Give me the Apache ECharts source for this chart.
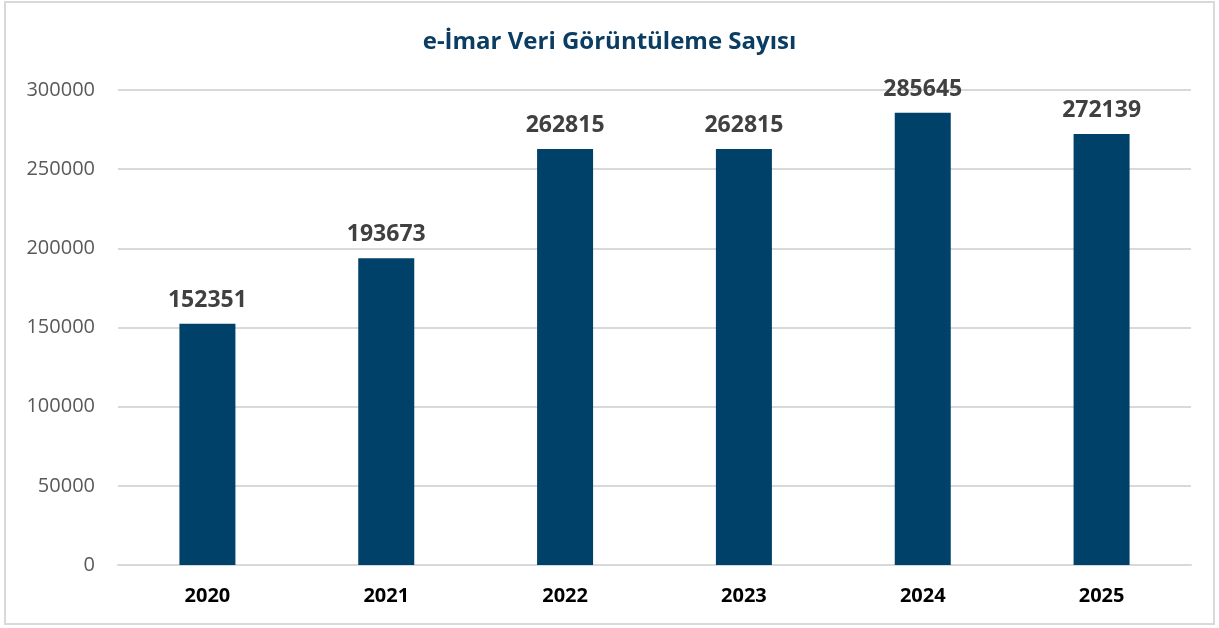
<!DOCTYPE html>
<html>
<head>
<meta charset="utf-8">
<script src="https://cdn.jsdelivr.net/npm/echarts@6/dist/echarts.min.js"></script>
<style>
  html, body { margin: 0; padding: 0; background: #fff; }
  #chart { width: 1219px; height: 628px; }
</style>
</head>
<body>
<div id="chart"></div>
<script>
var years = ['2020', '2021', '2022', '2023', '2024', '2025'];
var views = [152351, 193673, 262815, 262815, 285645, 272139];

var chart = echarts.init(document.getElementById('chart'));
var font = '"Open Sans", "Noto Sans", sans-serif';

chart.setOption({
    animation: false,
    title: {
        text: 'e-İmar Veri Görüntüleme Sayısı',
        left: 'center',
        top: 25,
        textStyle: { color: '#0b3d63', fontSize: 24, fontWeight: 'bold', fontFamily: font }
    },
    graphic: [{
        type: 'rect',
        shape: { x: 5, y: 2, width: 1209, height: 622 },
        style: { fill: 'none', stroke: '#d9d9d9', lineWidth: 2 },
        silent: true
    }],
    grid: { left: 118, right: 28, top: 90, bottom: 63 },
    xAxis: {
        type: 'category',
        data: years,
        axisLine: { lineStyle: { color: '#d9d9d9', width: 2 } },
        axisTick: { show: false },
        axisLabel: { color: '#000', fontSize: 20, fontWeight: 'bold', fontFamily: font, margin: 21 }
    },
    yAxis: {
        type: 'value',
        min: 0,
        max: 300000,
        interval: 50000,
        axisLine: { show: false },
        axisTick: { show: false },
        splitLine: { lineStyle: { color: '#d9d9d9', width: 2 } },
        axisLabel: {
            color: '#595959', fontSize: 20, fontFamily: font, margin: 23,
            formatter: function (v) { return String(v); }
        }
    },
    series: [{
        type: 'bar',
        data: views,
        barWidth: 56,
        itemStyle: { color: '#00416a' },
        label: {
            show: true,
            position: 'top',
            distance: 12,
            color: '#404040',
            fontSize: 23,
            fontWeight: 'bold',
            fontFamily: font
        }
    }]
});
</script>
</body>
</html>
